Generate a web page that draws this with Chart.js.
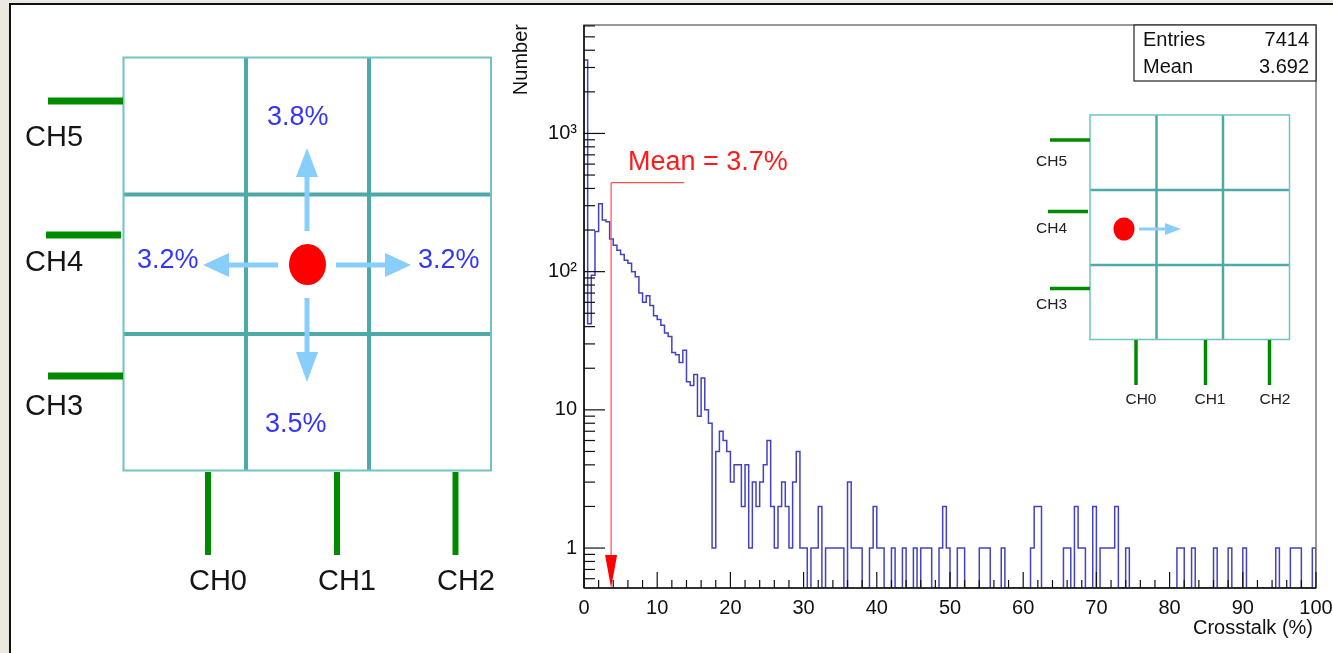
<!DOCTYPE html>
<html>
<head>
<meta charset="utf-8">
<script src="https://cdn.jsdelivr.net/npm/chart.js@4.4.1/dist/chart.umd.min.js"></script>
<style>
  body { margin: 0; width: 1333px; height: 653px; overflow: hidden; background: #ece9e2; }
  #paper { position: absolute; left: 9px; top: 3px; width: 1324px; height: 650px; background: #fff;
           border-left: 2px solid #111; border-top: 2px solid #111; }
  #chart { position: absolute; left: 0; top: 0; }
  #diagram { position: absolute; left: 0; top: 0; }
  #diagram text { font-family: "Liberation Sans", Arial, sans-serif; }
</style>
</head>
<body>
<div id="paper"></div>
<canvas id="chart" width="1333" height="653"></canvas>

<svg id="diagram" width="1333" height="653" xmlns="http://www.w3.org/2000/svg">
  <!-- grand schéma 3x3 -->
  <g stroke="#4eaaa8" stroke-width="4">
    <line x1="246" y1="57.5" x2="246" y2="470.5"/>
    <line x1="369" y1="57.5" x2="369" y2="470.5"/>
    <line x1="123.5" y1="194.5" x2="491" y2="194.5"/>
    <line x1="123.5" y1="334" x2="491" y2="334"/>
  </g>
  <rect x="123.5" y="57.5" width="367.5" height="413" fill="none" stroke="#6fc4c2" stroke-width="2"/>
  <g stroke="#008a00" stroke-width="7">
    <line x1="48" y1="101" x2="123" y2="101"/>
    <line x1="46" y1="235" x2="121" y2="235"/>
    <line x1="48" y1="376" x2="123" y2="376"/>
  </g>
  <g stroke="#008a00" stroke-width="6">
    <line x1="208" y1="472" x2="208" y2="555"/>
    <line x1="337" y1="472" x2="337" y2="555"/>
    <line x1="455.5" y1="472" x2="455.5" y2="555"/>
  </g>
  <g font-size="29" fill="#151515" dominant-baseline="central">
    <text x="25" y="136">CH5</text>
    <text x="25" y="261">CH4</text>
    <text x="25" y="405">CH3</text>
    <text x="218" y="580" text-anchor="middle">CH0</text>
    <text x="347" y="580" text-anchor="middle">CH1</text>
    <text x="466" y="580" text-anchor="middle">CH2</text>
  </g>
  <g stroke="#87cefa" stroke-width="5">
    <line x1="307" y1="231" x2="307" y2="176"/>
    <line x1="278" y1="265" x2="228" y2="265"/>
    <line x1="336" y1="265" x2="386" y2="265"/>
    <line x1="307" y1="298" x2="307" y2="353"/>
  </g>
  <g fill="#87cefa">
    <polygon points="296,177 318,177 307,148"/>
    <polygon points="229,253 229,277 203,265"/>
    <polygon points="385,253 385,277 411,265"/>
    <polygon points="296,352 318,352 307,382"/>
  </g>
  <ellipse cx="307.5" cy="264.5" rx="18.5" ry="20.5" fill="#ff0000"/>
  <g font-size="27" fill="#3535f5" dominant-baseline="central">
    <text x="267" y="116">3.8%</text>
    <text x="137" y="259">3.2%</text>
    <text x="418" y="259">3.2%</text>
    <text x="265" y="423">3.5%</text>
  </g>

  <!-- petit schéma dans l'histogramme -->
  <g stroke="#4eaaa8" stroke-width="2.5">
    <line x1="1156.5" y1="115" x2="1156.5" y2="339.5"/>
    <line x1="1223" y1="115" x2="1223" y2="339.5"/>
    <line x1="1090" y1="190" x2="1289.5" y2="190"/>
    <line x1="1090" y1="265" x2="1289.5" y2="265"/>
  </g>
  <rect x="1090" y="115" width="199.5" height="224.5" fill="none" stroke="#6fc4c2" stroke-width="1.5"/>
  <g stroke="#008a00" stroke-width="3.5">
    <line x1="1050" y1="140" x2="1090" y2="140"/>
    <line x1="1048" y1="211.5" x2="1088" y2="211.5"/>
    <line x1="1050" y1="288.5" x2="1090" y2="288.5"/>
    <line x1="1136" y1="340" x2="1136" y2="385"/>
    <line x1="1205.5" y1="340" x2="1205.5" y2="385"/>
    <line x1="1269.5" y1="340" x2="1269.5" y2="385"/>
  </g>
  <g font-size="15.5" fill="#222" dominant-baseline="central">
    <text x="1036" y="160">CH5</text>
    <text x="1036" y="227">CH4</text>
    <text x="1036" y="303">CH3</text>
    <text x="1141" y="398" text-anchor="middle">CH0</text>
    <text x="1210" y="398" text-anchor="middle">CH1</text>
    <text x="1275" y="398" text-anchor="middle">CH2</text>
  </g>
  <line x1="1139" y1="229" x2="1166" y2="229" stroke="#87cefa" stroke-width="3"/>
  <polygon points="1165,223 1165,235 1181,229" fill="#87cefa"/>
  <ellipse cx="1124" cy="229" rx="10.5" ry="11.5" fill="#ff0000"/>
</svg>

<script>
// Histogramme du crosstalk : 200 bins de 0.5 % entre 0 et 100 %
const binWidth = 0.5;
const counts = [
  3400, 42, 94, 195, 310, 236, 230, 172, 155, 143,
  133, 121, 115, 100, 92, 70, 60, 67, 57, 48,
  45, 41, 36, 34, 26, 25, 22, 27, 16, 15,
  18, 9, 17, 10, 8, 1, 5, 7, 6, 5,
  3, 4, 4, 2, 4, 1, 3, 2, 3, 4,
  6, 2, 1, 2, 3, 2, 1, 3, 5, 1,
  1, 0, 1, 1, 2, 0, 1, 1, 1, 1,
  1, 0, 3, 1, 1, 1, 0, 0, 1, 2,
  1, 1, 0, 0, 1, 0, 0, 1, 0, 0,
  1, 0, 1, 1, 1, 0, 0, 1, 2, 1,
  0, 0, 1, 1, 0, 0, 0, 0, 1, 1,
  1, 0, 0, 0, 1, 0, 0, 0, 0, 0,
  0, 0, 1, 2, 2, 0, 0, 0, 0, 0,
  0, 1, 1, 0, 2, 1, 1, 0, 0, 2,
  0, 1, 1, 1, 1, 2, 0, 0, 1, 0,
  0, 0, 0, 0, 0, 0, 0, 0, 0, 0,
  0, 0, 1, 1, 0, 0, 1, 0, 0, 0,
  0, 0, 1, 0, 0, 0, 1, 0, 0, 0,
  1, 0, 0, 0, 0, 0, 0, 0, 0, 1,
  0, 0, 0, 1, 1, 1, 0, 0, 0, 1
];
const xTicks = [0, 10, 20, 30, 40, 50, 60, 70, 80, 90, 100];
const yTicks = [1, 10, 100, 1000];
const yTickLabels = ["1", "10", "10²", "10³"];
const yRange = [0.514, 6090];
const statsLabels = ["Entries", "Mean"];
const statsValues = ["7414", "3.692"];
const meanValue = 3.7;
const meanLabel = "Mean = 3.7%";

const FONT = '"Liberation Sans", Arial, sans-serif';

// points du contour en escalier (les bins vides descendent au bas du cadre)
const yFloor = yRange[0];
const points = [{ x: 0, y: yFloor }];
counts.forEach((c, i) => points.push({ x: i * binWidth, y: c > 0 ? c : yFloor }));
const last = counts[counts.length - 1];
points.push({ x: counts.length * binWidth, y: last > 0 ? last : yFloor });
points.push({ x: counts.length * binWidth, y: yFloor });

function line(ctx, x1, y1, x2, y2) {
    ctx.beginPath();
    ctx.moveTo(x1, y1);
    ctx.lineTo(x2, y2);
    ctx.stroke();
}

// cadre, graduations internes style ROOT, flèche de la moyenne, boîte de stats
const decorations = {
    id: "decorations",
    afterDraw(chart) {
        const { ctx, chartArea: a } = chart;
        const x = chart.scales.x, y = chart.scales.y;
        ctx.save();

        ctx.strokeStyle = "#555";
        ctx.lineWidth = 1.2;
        ctx.strokeRect(a.left, a.top, a.right - a.left, a.bottom - a.top);

        ctx.strokeStyle = "#111";
        ctx.lineWidth = 1.6;
        line(ctx, a.left, a.top, a.left, a.bottom);
        line(ctx, a.left, a.bottom, a.right, a.bottom);

        ctx.lineWidth = 1.2;
        for (let d = -1; d <= 3; d++) {
            for (let m = 1; m <= 9; m++) {
                const v = m * Math.pow(10, d);
                if (v < yRange[0] || v > yRange[1]) continue;
                const py = y.getPixelForValue(v);
                line(ctx, a.left, py, a.left + (m === 1 ? 21 : 11), py);
            }
        }
        for (let v = 0; v <= 100; v += 2) {
            const px = x.getPixelForValue(v);
            line(ctx, px, a.bottom, px, a.bottom - (v % 10 === 0 ? 16 : 8));
        }

        // moyenne
        const mx = x.getPixelForValue(meanValue);
        const topY = y.getPixelForValue(440);
        ctx.strokeStyle = "#ff4d4d";
        ctx.lineWidth = 1.2;
        line(ctx, mx, topY, mx, a.bottom - 30);
        line(ctx, mx, topY, x.getPixelForValue(13.7), topY);
        ctx.fillStyle = "#ff0000";
        ctx.beginPath();
        ctx.moveTo(mx - 6, a.bottom - 33);
        ctx.lineTo(mx + 6, a.bottom - 33);
        ctx.lineTo(mx, a.bottom);
        ctx.closePath();
        ctx.fill();
        ctx.fillStyle = "#ff1a1a";
        ctx.font = "27px " + FONT;
        ctx.textAlign = "left";
        ctx.textBaseline = "middle";
        ctx.fillText(meanLabel, x.getPixelForValue(6.0), y.getPixelForValue(620));

        // boîte de stats
        const bw = 182, bh = 56;
        ctx.fillStyle = "#fff";
        ctx.fillRect(a.right - bw, a.top, bw, bh);
        ctx.strokeStyle = "#222";
        ctx.lineWidth = 1.2;
        ctx.strokeRect(a.right - bw, a.top, bw, bh);
        ctx.fillStyle = "#111";
        ctx.font = "20px " + FONT;
        statsLabels.forEach((lab, i) => {
            const ty = a.top + 15 + i * 27;
            ctx.textAlign = "left";
            ctx.fillText(lab, a.right - bw + 9, ty);
            ctx.textAlign = "right";
            ctx.fillText(statsValues[i], a.right - 7, ty);
        });

        // titres des axes
        ctx.fillStyle = "#111";
        ctx.font = "20px " + FONT;
        ctx.textAlign = "right";
        ctx.textBaseline = "middle";
        ctx.fillText("Crosstalk (%)", 1313, 628);
        ctx.translate(521, 24);
        ctx.rotate(-Math.PI / 2);
        ctx.fillText("Number", 0, 0);

        ctx.restore();
    }
};

new Chart(document.getElementById("chart"), {
    type: "line",
    data: {
        datasets: [{
            data: points,
            stepped: true,
            borderColor: "#4343c2",
            borderWidth: 1.5,
            pointRadius: 0,
            fill: false
        }]
    },
    options: {
        responsive: false,
        animation: false,
        events: [],
        layout: { padding: { left: 0, top: 25, right: 17, bottom: 0 } },
        plugins: { legend: { display: false }, tooltip: { enabled: false } },
        scales: {
            x: {
                type: "linear",
                min: 0,
                max: 100,
                grid: { display: false, drawTicks: false },
                border: { display: false },
                ticks: { font: { size: 20, family: FONT }, color: "#111", padding: 8, maxRotation: 0, autoSkip: false },
                afterBuildTicks: s => { s.ticks = xTicks.map(v => ({ value: v })); },
                afterFit: s => { s.height = 65; s.paddingLeft = 0; s.paddingRight = 0; }
            },
            y: {
                type: "logarithmic",
                min: yRange[0],
                max: yRange[1],
                grid: { display: false, drawTicks: false },
                border: { display: false },
                ticks: {
                    font: { size: 20, family: FONT }, color: "#111", padding: 7, autoSkip: false,
                    callback: (v, i) => yTickLabels[i]
                },
                afterBuildTicks: s => { s.ticks = yTicks.map(v => ({ value: v })); },
                afterFit: s => { s.width = 584; s.paddingTop = 0; s.paddingBottom = 0; }
            }
        }
    },
    plugins: [decorations]
});
</script>
</body>
</html>
